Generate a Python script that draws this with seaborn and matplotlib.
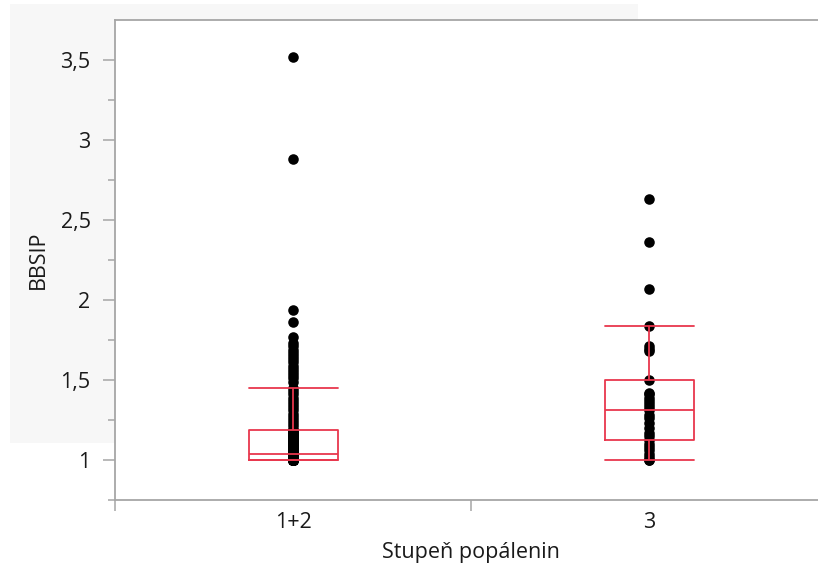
import numpy as np
import pandas as pd
import seaborn as sns
import matplotlib.pyplot as plt
from matplotlib.patches import Rectangle

# ---------------- data ----------------
categories = ["1+2", "3"]

bbsip_12 = [1.0] * 42 + [1.01] * 7 + [1.02] * 7 + [1.03] * 6 + [1.04] + \
    [1.05, 1.05, 1.055, 1.06, 1.065, 1.07, 1.075, 1.08, 1.085, 1.09,
     1.095, 1.10, 1.105, 1.11, 1.115, 1.12, 1.125, 1.13, 1.135, 1.14,
     1.145, 1.15, 1.155, 1.16, 1.165, 1.17, 1.175, 1.18, 1.185, 1.185] + [1.19] + \
    [1.21, 1.23, 1.25, 1.27, 1.29, 1.31, 1.33, 1.35, 1.37, 1.39, 1.41, 1.43, 1.45,
     1.49, 1.51, 1.53, 1.55, 1.57, 1.59, 1.61, 1.63, 1.65, 1.67, 1.69, 1.71, 1.73,
     1.77, 1.86, 1.94, 2.88, 3.52]

bbsip_3 = [1.0, 1.0, 1.02, 1.04, 1.06, 1.08, 1.10, 1.125,
           1.15, 1.17, 1.20, 1.23, 1.26, 1.28, 1.31,
           1.33, 1.35, 1.37, 1.39, 1.41, 1.42, 1.50,
           1.68, 1.695, 1.71, 1.84, 2.07, 2.36, 2.63]

y_major = [1, 1.5, 2, 2.5, 3, 3.5]
y_major_labels = ["1", "1,5", "2", "2,5", "3", "3,5"]
y_minor = [0.75, 1.25, 1.75, 2.25, 2.75, 3.25]

x_label = "Stupeň popálenin"
y_label = "BBSIP"

df = pd.DataFrame({
    x_label: [categories[0]] * len(bbsip_12) + [categories[1]] * len(bbsip_3),
    y_label: bbsip_12 + bbsip_3,
})

# ---------------- style ----------------
sns.set_theme(style="white")
plt.rcParams['font.family'] = ['Open Sans', 'DejaVu Sans']

RED = "#e8374d"
AXC = "#a6a6a6"
TXT = "#1a1a1a"
FS = 15.5

W, H = 818, 569
fig = plt.figure(figsize=(W / 100, H / 100), dpi=100)
fig.patch.set_facecolor("white")
fig.patches.append(Rectangle((10 / W, 1 - 443 / H), (638 - 10) / W, (443 - 4) / H,
                             transform=fig.transFigure, facecolor="#f7f7f7",
                             edgecolor="none", zorder=-5))

ax = fig.add_axes([115 / W, 69 / H, 712 / W, 480 / H])
ax.set_zorder(2)
ax.set_facecolor("white")

sns.stripplot(data=df, x=x_label, y=y_label, order=categories, jitter=False,
              color="black", size=7.6, linewidth=0, ax=ax, zorder=2)

sns.boxplot(data=df, x=x_label, y=y_label, order=categories, width=0.25,
            fill=False, color=RED, linewidth=1.3, showfliers=False, whis=1.5,
            capwidths=0.25,
            boxprops=dict(zorder=3), whiskerprops=dict(zorder=3),
            capprops=dict(zorder=3), medianprops=dict(zorder=3, color=RED),
            ax=ax)

ax.set_xlim(-0.5, 1.5)
ax.set_ylim(0.75, 3.75)

# y ticks
ax.set_yticks(y_major)
ax.set_yticklabels(y_major_labels)
ax.set_yticks(y_minor, minor=True)
ax.tick_params(axis="y", which="major", direction="out", length=8.6, width=1.1,
               color=AXC, pad=9, labelsize=FS, labelcolor=TXT, left=True)
ax.tick_params(axis="y", which="minor", direction="out", length=5, width=1.1,
               color=AXC, left=True)

# x ticks: boundaries as ticks, labels at category centres
ax.set_xticks([-0.5, 0.5, 1.5])
ax.set_xticklabels(["", "", ""])
ax.set_xticks([0, 1], minor=True)
ax.set_xticklabels(categories, minor=True)
ax.tick_params(axis="x", which="major", direction="out", length=8, width=1.1,
               color=AXC, bottom=True)
ax.tick_params(axis="x", which="minor", length=0, pad=9, labelsize=FS,
               labelcolor=TXT, bottom=True)

for side in ["left", "bottom", "top"]:
    ax.spines[side].set_color(AXC)
    ax.spines[side].set_linewidth(1.3)
    ax.spines[side].set_visible(True)
ax.spines["right"].set_visible(False)

ax.set_xlabel(x_label, fontsize=FS, color=TXT, labelpad=6)
ax.set_ylabel(y_label, fontsize=FS, color=TXT, labelpad=8)

fig.savefig("out.png", dpi=100)
